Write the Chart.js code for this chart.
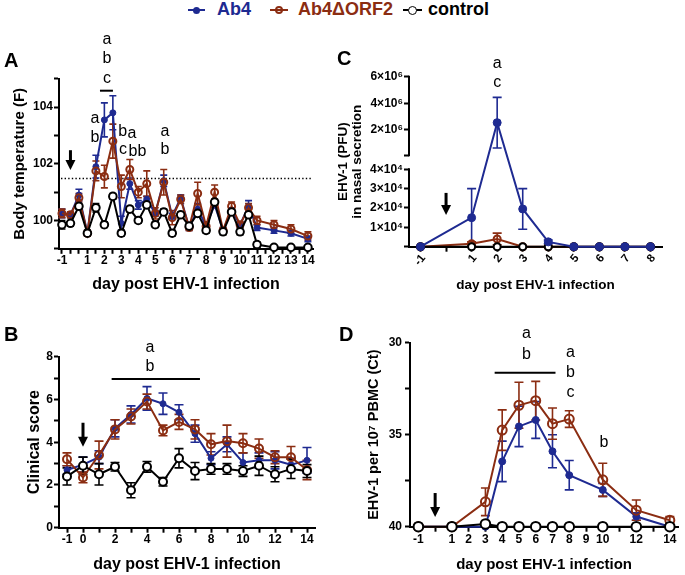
<!DOCTYPE html>
<html><head><meta charset="utf-8"><title>EHV-1 figure</title>
<script src="https://cdn.jsdelivr.net/npm/chart.js@4/dist/chart.umd.min.js"></script>
<style>
html,body{margin:0;padding:0;background:#fff;}
body{position:relative;width:685px;height:575px;overflow:hidden;font-family:'Liberation Sans',Arial,sans-serif;}
canvas{position:absolute;}
.pl{position:absolute;font-weight:bold;font-size:20px;line-height:20px;color:#000;}
.lt{position:absolute;top:0;font-weight:bold;font-size:18px;line-height:18px;white-space:nowrap;}
.ll{position:absolute;top:9px;height:2px;}
.lm{position:absolute;border-radius:50%;box-sizing:border-box;}
</style></head><body>
<script>
// ---------------- DATA ----------------
// Panel A: body temperature, two readings per day
const tempLabels = ['-1','','','1','','2','','3','','4','','5','','6','','7','','8','','9','','10','','11','','12','','13','','14'];
const tempAb4     = [100.25,100.2,100.9,99.55,101.9,103.55,103.8,99.9,101.3,100.55,100.75,100.25,101.4,100.15,100.8,99.75,100.4,99.8,100.55,99.65,100.35,99.85,100.5,99.75,null,99.65,null,99.55,null,99.35];
const tempAb4Err  = [0.15,0.1,0.2,0.1,0.4,0.6,0.6,0.25,0.2,0.15,0.1,0.1,0.2,0.1,0.1,0.1,0.2,0.15,0.1,0.1,0.1,0.1,0.2,0.1,null,0.1,null,0.1,null,0.1];
const tempOrf2    = [100.25,100.2,100.8,99.55,101.75,101.55,102.8,101.2,101.8,101.0,101.3,100.25,101.35,100.1,100.75,99.75,100.95,99.8,101.0,99.65,100.5,99.85,100.45,100.0,null,99.85,null,99.7,null,99.45];
const tempOrf2Err = [0.15,0.1,0.15,0.1,0.35,0.4,0.6,0.4,0.35,0.2,0.45,0.2,0.45,0.25,0.15,0.1,0.4,0.15,0.25,0.1,0.15,0.1,0.15,0.15,null,0.15,null,0.15,null,0.15];
const tempCtrl    = [99.85,99.9,100.5,99.55,100.45,99.85,100.85,99.55,100.4,100.0,100.55,99.85,100.3,99.55,100.2,99.8,100.25,99.65,100.65,99.6,100.3,99.6,100.2,99.15,null,99.05,null,99.05,null,99.05];
const tempCtrlErr = [0.15,0.1,0.1,0.1,0.15,0.1,0.1,0.1,0.1,0.1,0.1,0.1,0.1,0.1,0.1,0.1,0.1,0.1,0.1,0.1,0.1,0.1,0.1,0.1,null,0.05,null,0.05,null,0.05];
const feverThreshold = 101.5;

// Panel B: clinical score
const scoreDays    = [-1,0,1,2,3,4,5,6,7,8,9,10,11,12,13,14];
const scoreAb4     = [2.7,2.95,3.3,4.65,5.3,6.05,5.8,5.4,4.4,3.25,3.9,3.05,3.15,3.15,2.95,3.15];
const scoreAb4Err  = [0.2,0.35,0.3,0.4,0.4,0.55,0.5,0.35,0.4,0.3,0.35,0.45,0.35,0.4,0.3,0.6];
const scoreOrf2    = [3.2,2.35,3.4,4.6,5.2,5.9,4.55,4.95,4.6,3.9,4.05,3.95,3.7,3.3,3.3,2.7];
const scoreOrf2Err = [0.3,0.25,0.65,0.45,0.35,0.35,0.25,0.35,0.45,0.5,0.75,0.45,0.45,0.3,0.5,0.45];
const scoreCtrl    = [2.4,2.9,2.5,2.85,1.75,2.85,2.15,3.25,2.65,2.75,2.75,2.65,2.9,2.5,2.75,2.65];
const scoreCtrlErr = [0.4,0.4,0.5,0.2,0.35,0.25,0.2,0.45,0.4,0.25,0.25,0.25,0.45,0.35,0.45,0.3];
const scoreTickDays = [-1,0,1,2,3,4,5,6,7,8,9,10,11,12,13,14];
const scoreLabelDays = [-1,0,2,4,6,8,10,12,14];

// Panel C: virus in nasal secretion (PFU)
const nasalDays    = [-1,1,2,3,4,5,6,7,8];
const nasalAb4     = [0,15000,2550000,19500,2500,0,0,0,0];
const nasalAb4Err  = [0,15000,1900000,10500,1000,0,0,0,0];
const nasalOrf2    = [0,1500,4000,0,0,0,0,0,0];
const nasalOrf2Err = [0,1000,3000,0,0,0,0,0,0];
const nasalCtrl    = [0,0,0,0,0,0,0,0,0];
const nasalTicks   = [0,10000,20000,30000,40000,100000,2000000,4000000,6000000];
const nasalTickDays = [-1,0,1,2,3,4,5,6,7,8];
const nasalLabelDays = [-1,1,2,3,4,5,6,7,8];

// Panel D: viremia (Ct)
const ctDays    = [-1,1,3,4,5,6,7,8,10,12,14];
const ctAb4     = [40,40,40,36.45,34.55,34.2,35.9,37.2,38.0,39.45,40];
const ctAb4Err  = [0,0,0,1.1,1.1,1.0,0.9,0.8,0.35,0.2,0];
const ctOrf2    = [40,40,38.65,34.75,33.4,33.15,34.4,34.15,37.45,39.1,39.65];
const ctOrf2Err = [0,0,0.75,1.1,1.25,1.05,0.85,0.45,0.9,0.55,0.2];
const ctCtrl    = [40,40,39.85,40,40,40,40,40,40,40,40];
const ctTickDays = [-1,0,1,2,3,4,5,6,7,8,9,10,11,12,13,14];
const ctLabelDays = [-1,1,2,3,4,5,6,7,8,9,10,12,14];

// ---------------- STYLE ----------------
const BLUE = '#1e2a91', BROWN = '#8b2d12', BLACK = '#000000';
const FONT = "'Liberation Sans', Arial, sans-serif";
Chart.defaults.font.family = FONT;
Chart.defaults.color = '#000';

// broken linear scale for panel C
class BrokenScale extends Chart.LinearScale {
  buildTicks() { return (this.options.customTicks || []).map(v => ({value: v})); }
  _t(v) {
    const b = this.options.broken;
    if (v <= b.lowMax) return v / b.lowMax * b.lowFrac;
    if (v < b.highMin) return b.lowFrac + (v - b.lowMax) / (b.highMin - b.lowMax) * (b.highFrac - b.lowFrac);
    return b.highFrac + (v - b.highMin) / (this.max - b.highMin) * (1 - b.highFrac);
  }
  getPixelForValue(v) { return (v === null || v === undefined) ? NaN : this.getPixelForDecimal(this._t(v)); }
  getValueForPixel(p) {
    const b = this.options.broken; const t = this.getDecimalForPixel(p);
    if (t <= b.lowFrac) return t / b.lowFrac * b.lowMax;
    if (t < b.highFrac) return b.lowMax + (t - b.lowFrac) / (b.highFrac - b.lowFrac) * (b.highMin - b.lowMax);
    return b.highMin + (t - b.highFrac) / (1 - b.highFrac) * (this.max - b.highMin);
  }
}
BrokenScale.id = 'broken';
BrokenScale.defaults = {};
Chart.register(BrokenScale);

const extras = {
  id: 'extras',
  beforeDatasetsDraw(chart, args, o) {
    const ctx = chart.ctx, ca = chart.chartArea, ys = chart.scales.y;
    ctx.save();
    if (o.dotted != null) {
      ctx.strokeStyle = '#000'; ctx.lineWidth = 1.4; ctx.setLineDash([1.4, 2.2]);
      const y = Math.round(ys.getPixelForValue(o.dotted)) + 0.5;
      ctx.beginPath(); ctx.moveTo(ca.left + 2, y); ctx.lineTo(ca.right, y); ctx.stroke();
      ctx.setLineDash([]);
    }
    chart.data.datasets.forEach((d, di) => {
      if (!d.errors) return;
      const meta = chart.getDatasetMeta(di);
      ctx.strokeStyle = d.borderColor; ctx.lineWidth = o.errWidth || 1.6;
      const c = o.cap || 4;
      meta.data.forEach((p, i) => {
        const e = d.errors[i], v = d.data[i].y;
        if (!e || v == null) return;
        const x = p.x, y1 = ys.getPixelForValue(v + e), y2 = ys.getPixelForValue(v - e);
        ctx.beginPath();
        ctx.moveTo(x, y1); ctx.lineTo(x, y2);
        ctx.moveTo(x - c, y1); ctx.lineTo(x + c, y1);
        ctx.moveTo(x - c, y2); ctx.lineTo(x + c, y2);
        ctx.stroke();
      });
    });
    ctx.restore();
  },
  afterDraw(chart, args, o) {
    const ctx = chart.ctx, xs = chart.scales.x, ys = chart.scales.y;
    ctx.save();
    ctx.fillStyle = '#000'; ctx.strokeStyle = '#000';
    if (o.brokenAxis) {
      ctx.lineWidth = 2;
      o.brokenAxis.forEach(seg => {
        ctx.beginPath(); ctx.moveTo(ys.right, ys.getPixelForValue(seg[0]) + 1); ctx.lineTo(ys.right, ys.getPixelForValue(seg[1]) - 1); ctx.stroke();
      });
    }
    ctx.font = (o.textSize || 16) + 'px ' + FONT;
    ctx.textAlign = 'center'; ctx.textBaseline = 'middle';
    (o.texts || []).forEach(t => ctx.fillText(t.t, xs.getPixelForValue(t.x), ys.getPixelForValue(t.y)));
    ctx.lineWidth = 2;
    (o.bars || []).forEach(b => {
      const y = ys.getPixelForValue(b.y);
      ctx.beginPath(); ctx.moveTo(xs.getPixelForValue(b.x1), y); ctx.lineTo(xs.getPixelForValue(b.x2), y); ctx.stroke();
    });
    (o.arrows || []).forEach(a => {
      const x = xs.getPixelForValue(a.x);
      const y1 = ys.getPixelForValue(a.y1), y2 = ys.getPixelForValue(a.y2);
      const top = Math.min(y1, y2), tip = Math.max(y1, y2), hh = 10, hw = 10;
      ctx.lineWidth = 3;
      ctx.beginPath(); ctx.moveTo(x, top); ctx.lineTo(x, tip - hh + 1); ctx.stroke();
      ctx.beginPath(); ctx.moveTo(x - hw / 2, tip - hh); ctx.lineTo(x + hw / 2, tip - hh); ctx.lineTo(x, tip); ctx.closePath(); ctx.fill();
    });
    ctx.restore();
  }
};
Chart.register(extras);

function makeCanvas(id, box) {
  const cv = document.createElement('canvas');
  cv.id = id; cv.width = box.w; cv.height = box.h;
  cv.style.left = box.x + 'px'; cv.style.top = box.y + 'px';
  cv.style.width = box.w + 'px'; cv.style.height = box.h + 'px';
  document.body.appendChild(cv);
  return cv.getContext('2d');
}

function series(label, xs, ys, errs, kind, sizes) {
  const base = {label, data: xs.map((x, i) => ({x, y: ys[i]})), errors: errs, spanGaps: true,
    tension: 0, borderWidth: 2, clip: false, pointHoverRadius: 0};
  if (kind === 'ab4') return Object.assign(base, {borderColor: BLUE, backgroundColor: BLUE,
    pointBackgroundColor: BLUE, pointBorderColor: BLUE, pointBorderWidth: 1, pointRadius: sizes[0], order: 3});
  if (kind === 'orf2') return Object.assign(base, {borderColor: BROWN, backgroundColor: BROWN,
    pointBackgroundColor: 'rgba(255,255,255,0)', pointBorderColor: BROWN, pointBorderWidth: 2, pointRadius: sizes[1], order: 2});
  return Object.assign(base, {borderColor: BLACK, backgroundColor: '#fff',
    pointBackgroundColor: '#fff', pointBorderColor: BLACK, pointBorderWidth: 2, pointRadius: sizes[2], order: 1});
}

function axis(size, extra) {
  const a = {
    border: {display: true, color: '#000', width: 2},
    grid: {display: true, drawOnChartArea: false, drawTicks: true, tickLength: 5, tickWidth: 2, tickColor: '#000'},
    ticks: {color: '#000', font: {size: size, weight: 'bold'}, autoSkip: false, maxRotation: 0, minRotation: 0, includeBounds: false, padding: 1}
  };
  return Chart.helpers.merge(a, extra);
}
function fixedTicks(list) { return s => { s.ticks = list.map(v => ({value: v})); }; }

function baseOptions(pad, yW, xH, scales, ex) {
  scales.x.afterFit = s => { s.height = xH; };
  scales.y.afterFit = s => { s.width = yW; };
  return {
    responsive: false, animation: false, events: [], devicePixelRatio: 1,
    layout: {padding: pad},
    scales: scales,
    plugins: {legend: {display: false}, tooltip: {enabled: false}, extras: ex}
  };
}

// ---------------- PANEL A ----------------
const idxA = tempLabels.map((_, i) => i);
new Chart(makeCanvas('cA', {x: 0, y: 30, w: 340, h: 270}), {
  type: 'line',
  data: {datasets: [
    series('Ab4', idxA, tempAb4, tempAb4Err, 'ab4', [3, 3.5, 3.8]),
    series('Ab4ΔORF2', idxA, tempOrf2, tempOrf2Err, 'orf2', [3, 3.5, 3.8]),
    series('control', idxA, tempCtrl, tempCtrlErr, 'ctrl', [3, 3.5, 3.8])
  ]},
  options: baseOptions({left: 0, top: 48.8, right: 27, bottom: 0}, 59, 51.2, {
    x: axis(12, {type: 'linear', min: -0.35, max: 29.6, afterBuildTicks: fixedTicks(idxA),
      ticks: {padding: 0, callback: v => tempLabels[Math.round(v)] || ''},
      title: {display: true, text: 'day post EHV-1 infection', font: {size: 16, weight: 'bold'}, padding: {top: 0, bottom: 5.4}}}),
    y: axis(12, {type: 'linear', min: 99, max: 105,
      ticks: {stepSize: 1, callback: v => (v === 100 || v === 102 || v === 104) ? String(v) : ''},
      title: {display: true, text: 'Body temperature (F)', font: {size: 15, weight: 'bold'}, padding: {top: 11, bottom: 0}}})
  }, {
    dotted: feverThreshold, cap: 3.5,
    texts: [{x:5.3,y:106.37,t:'a'},{x:5.3,y:105.70,t:'b'},{x:5.3,y:105.02,t:'c'},
      {x:3.9,y:103.58,t:'a'},{x:3.9,y:102.91,t:'b'},
      {x:7.15,y:103.13,t:'b'},{x:8.25,y:103.08,t:'a'},
      {x:7.2,y:102.49,t:'c'},{x:8.37,y:102.42,t:'b'},{x:9.43,y:102.42,t:'b'},
      {x:12.14,y:103.13,t:'a'},{x:12.14,y:102.49,t:'b'}],
    bars: [{x1: 4.48, x2: 6.01, y: 104.58}],
    arrows: [{x: 1, y1: 102.48, y2: 101.78}]
  })
});

// ---------------- PANEL B ----------------
new Chart(makeCanvas('cB', {x: 0, y: 300, w: 340, h: 275}), {
  type: 'line',
  data: {datasets: [
    series('Ab4', scoreDays, scoreAb4, scoreAb4Err, 'ab4', [3, 4, 4]),
    series('Ab4ΔORF2', scoreDays, scoreOrf2, scoreOrf2Err, 'orf2', [3, 4, 4]),
    series('control', scoreDays, scoreCtrl, scoreCtrlErr, 'ctrl', [3, 4, 4])
  ]},
  options: baseOptions({left: 0, top: 56.7, right: 25, bottom: 0}, 59, 47.3, {
    x: axis(12, {type: 'linear', min: -1.5, max: 14.5, afterBuildTicks: fixedTicks(scoreTickDays),
      ticks: {padding: 0, callback: v => scoreLabelDays.includes(v) ? String(v) : ''},
      title: {display: true, text: 'day post EHV-1 infection', font: {size: 16, weight: 'bold'}, padding: {top: 0, bottom: 0.4}}}),
    y: axis(12, {type: 'linear', min: 0, max: 8,
      ticks: {stepSize: 1, callback: v => (v % 2 === 0) ? String(v) : ''},
      title: {display: true, text: 'Clinical score', font: {size: 16, weight: 'bold'}, padding: {top: 25.4, bottom: 0}}})
  }, {
    cap: 4.5,
    texts: [{x: 4.19, y: 8.41, t: 'a'}, {x: 4.19, y: 7.52, t: 'b'}],
    bars: [{x1: 1.79, x2: 7.31, y: 6.96}],
    arrows: [{x: 0, y1: 4.91, y2: 3.79}]
  })
});

// ---------------- PANEL C ----------------
const supC = {4: '⁴', 6: '⁶'};
new Chart(makeCanvas('cC', {x: 335, y: 30, w: 350, h: 270}), {
  type: 'line',
  data: {datasets: [
    series('Ab4', nasalDays, nasalAb4, nasalAb4Err, 'ab4', [4, 3.5, 3.5]),
    series('Ab4ΔORF2', nasalDays, nasalOrf2, nasalOrf2Err, 'orf2', [4, 3.5, 3.5]),
    series('control', nasalDays, nasalCtrl, null, 'ctrl', [4, 3.5, 3.5])
  ].map((d, i) => Object.assign(d, {order: [1, 3, 2][i]}))},
  options: baseOptions({left: 0, top: 46.7, right: 23, bottom: 0}, 74, 53.3, {
    x: axis(11.5, {type: 'linear', min: -1.45, max: 8.45, afterBuildTicks: fixedTicks(nasalTickDays),
      ticks: {minRotation: 50, maxRotation: 50, padding: 0, labelOffset: 3, callback: v => nasalLabelDays.includes(v) ? String(v) : ''},
      title: {display: true, text: 'day post EHV-1 infection', font: {size: 13.5, weight: 'bold'}, padding: {top: 0, bottom: 6.9}}}),
    y: axis(12, {type: 'broken', min: 0, max: 6000000, customTicks: nasalTicks,
      broken: {lowMax: 40000, highMin: 100000, lowFrac: 0.4553, highFrac: 0.5376},
      border: {display: false},
      ticks: {callback: v => v >= 1e6 ? (v / 1e6) + '×10' + supC[6] : (v >= 1e4 && v <= 4e4 ? (v / 1e4) + '×10' + supC[4] : '')},
      title: {display: true, text: ['EHV-1 (PFU)', 'in nasal secretion'], font: {size: 13.5, weight: 'bold', lineHeight: 1.05}, padding: {top: 1.4, bottom: 0}}})
  }, {
    cap: 4.5,
    brokenAxis: [[0, 40000], [100000, 6000000]],
    texts: [{x: 2, y: 7.0e6, t: 'a'}, {x: 2, y: 5.58e6, t: 'c'}],
    arrows: [{x: 0, y1: 27800, y2: 16400}]
  })
});

// ---------------- PANEL D ----------------
new Chart(makeCanvas('cD', {x: 340, y: 300, w: 345, h: 275}), {
  type: 'line',
  data: {datasets: [
    series('Ab4', ctDays, ctAb4, ctAb4Err, 'ab4', [3.5, 4.5, 4.8]),
    series('Ab4ΔORF2', ctDays, ctOrf2, ctOrf2Err, 'orf2', [3.5, 4.5, 4.8]),
    series('control', ctDays, ctCtrl, null, 'ctrl', [3.5, 4.5, 4.8])
  ]},
  options: baseOptions({left: 0, top: 42.7, right: 2.5, bottom: 0}, 70, 48.3, {
    x: axis(12, {type: 'linear', min: -1.5, max: 14.5, afterBuildTicks: fixedTicks(ctTickDays),
      ticks: {padding: 1, callback: v => ctLabelDays.includes(v) ? String(v) : ''},
      title: {display: true, text: 'day post EHV-1 infection', font: {size: 15, weight: 'bold'}, padding: {top: 0, bottom: 1}}}),
    y: axis(12, {type: 'linear', min: 30, max: 40, reverse: true,
      ticks: {stepSize: 2.5, padding: 3, callback: v => (v % 5 === 0) ? String(v) : ''},
      title: {display: true, text: 'EHV-1 per 10⁷ PBMC (Ct)', font: {size: 14.5, weight: 'bold'}, padding: {top: 25.3, bottom: 0}}})
  }, {
    cap: 4.5,
    texts: [{x:5.44,y:29.53,t:'a'},{x:5.44,y:30.67,t:'b'},{x:8.07,y:30.52,t:'a'},{x:8.07,y:31.61,t:'b'},{x:8.07,y:32.70,t:'c'},{x:10.07,y:35.43,t:'b'}],
    bars: [{x1: 3.55, x2: 7.18, y: 31.63}],
    arrows: [{x: 0, y1: 38.17, y2: 39.47}]
  })
});
</script>
<!-- legend -->
<div class="ll" style="left:188px;width:17px;background:#1e2a91"></div>
<div class="lm" style="left:193px;top:6.5px;width:7px;height:7px;background:#1e2a91"></div>
<div class="lt" style="left:217px;color:#1e2a91">Ab4</div>
<div class="ll" style="left:270px;width:18px;background:#8b2d12"></div>
<div class="lm" style="left:275px;top:6px;width:8px;height:8px;border:2px solid #8b2d12;"></div>
<div class="lt" style="left:298px;color:#8b2d12">Ab4ΔORF2</div>
<div class="ll" style="left:403px;width:19px;background:#000"></div>
<div class="lm" style="left:408px;top:6px;width:9px;height:9px;border:1.5px solid #000;background:#fff"></div>
<div class="lt" style="left:428px;color:#000">control</div>
<!-- panel letters -->
<div class="pl" style="left:4px;top:50px">A</div>
<div class="pl" style="left:4px;top:324px">B</div>
<div class="pl" style="left:337px;top:48px">C</div>
<div class="pl" style="left:339px;top:324px">D</div>
</body></html>
